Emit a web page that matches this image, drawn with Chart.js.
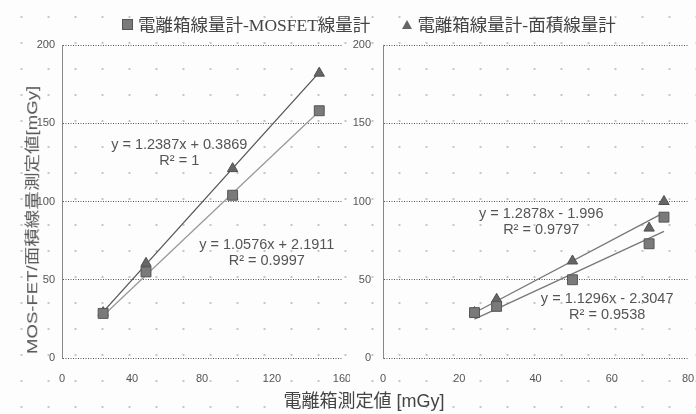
<!DOCTYPE html>
<html lang="ja">
<head>
<meta charset="UTF-8">
<title>電離箱測定値</title>
<script src="https://cdn.jsdelivr.net/npm/chart.js"></script>
<style>
  html, body { margin: 0; padding: 0; }
  body {
    width: 696px; height: 414px; position: relative; overflow: hidden;
    background-color: #fdfdfd;
    background-image: radial-gradient(circle, #c4c4c4 0.9px, transparent 1.3px);
    background-size: 27px 26px;
    background-position: 8px 4px;
    font-family: "Liberation Sans", "Noto Sans CJK JP", sans-serif;
  }
  canvas { position: absolute; top: 0; }
  #left { left: 0; }
  #right { left: 350px; }
  .legend {
    position: absolute; top: 11px; left: 122px; height: 24px;
    font-family: "Liberation Serif", "Noto Sans CJK JP", serif;
    font-size: 17.5px; color: #444; white-space: nowrap; line-height: 24px;
  }
  .legend span { display: inline-block; vertical-align: middle; }
  .sq { width: 9px; height: 9px; background: #7a7a7a; border: 1px solid #555; margin-right: 5px; }
  .tri { width: 0; height: 0; border-left: 5px solid transparent; border-right: 5px solid transparent;
         border-bottom: 9px solid #666; margin: 0 5px 0 32px; }
  .ytitle {
    position: absolute; left: 31px; top: 220px;
    transform: translate(-50%, -50%) rotate(-90deg) scale(1.16, 0.9);
    font-size: 16px; color: #555; white-space: nowrap;
  }
  .xtitle {
    position: absolute; left: 364px; top: 399px; transform: translate(-50%, -50%);
    font-size: 18px; color: #444; white-space: nowrap;
  }
</style>
</head>
<body>
  <canvas id="left" width="350" height="414"></canvas>
  <canvas id="right" width="346" height="414"></canvas>
  <div class="legend"><span class="sq"></span><span>電離箱線量計-MOSFET線量計</span><span class="tri"></span><span>電離箱線量計-面積線量計</span></div>
  <div class="ytitle">MOS-FET/面積線量測定値[mGy]</div>
  <div class="xtitle">電離箱測定値 [mGy]</div>

<script>
// left panel (0-160 mGy)
const leftX = [23.5, 48, 97.5, 147];
const leftMosfet = [28.5, 55, 104, 158];
const leftArea = [29, 60.5, 121, 182];
const leftSlope = [1.0576, 1.2387];
const leftIntercept = [2.1911, 0.3869];
const leftXTicks = [0, 40, 80, 120, 160];

// right panel (0-80 mGy)
const rightX = [24, 29.8, 49.7, 69.8, 73.7];
const rightMosfet = [29, 33, 50, 73, 90];
const rightArea = [29, 37.5, 62, 83, 100];
const rightSlope = [1.1296, 1.2878];
const rightIntercept = [-2.3047, -1.996];
const rightXTicks = [0, 20, 40, 60, 80];

const yTicks = [0, 50, 100, 150, 200];

const leftLabels = [
    { x: 67, y: 136, lines: ["y = 1.2387x + 0.3869", "R\u00b2 = 1"] },
    { x: 117, y: 72, lines: ["y = 1.0576x + 2.1911", "R\u00b2 = 0.9997"] }
];
const rightLabels = [
    { x: 41.5, y: 92, lines: ["y = 1.2878x - 1.996", "R\u00b2 = 0.9797"] },
    { x: 58.8, y: 37.7, lines: ["y = 1.1296x - 2.3047", "R\u00b2 = 0.9538"] }
];

function pts(xs, ys) {
    return xs.map((x, i) => ({ x: x, y: ys[i] }));
}

function trend(xs, m, b) {
    const x0 = Math.min(...xs), x1 = Math.max(...xs);
    return [{ x: x0, y: m * x0 + b }, { x: x1, y: m * x1 + b }];
}

const eqPlugin = {
    id: "eqLabels",
    afterDatasetsDraw(chart, args, opts) {
        const ctx = chart.ctx;
        const sx = chart.scales.x, sy = chart.scales.y;
        ctx.save();
        ctx.font = "14.5px 'Liberation Sans', sans-serif";
        ctx.fillStyle = "#555";
        ctx.textAlign = "center";
        ctx.textBaseline = "middle";
        opts.items.forEach(l => {
            const px = sx.getPixelForValue(l.x), py = sy.getPixelForValue(l.y);
            l.lines.forEach((t, i) => ctx.fillText(t, px, py + i * 16));
        });
        ctx.restore();
    }
};

function makeChart(id, xs, mos, area, slope, icpt, xTicks, xMax, yWidth, yPad, padRight, labels, lineCols) {
    new Chart(document.getElementById(id), {
        type: "scatter",
        data: {
            datasets: [
                { data: pts(xs, mos), pointStyle: "rect", pointRadius: 7, pointHoverRadius: 7,
                  backgroundColor: "#7a7a7a", borderColor: "#555", borderWidth: 1, order: 0 },
                { data: pts(xs, area), pointStyle: "triangle", pointRadius: 6, pointHoverRadius: 6,
                  backgroundColor: "#666", borderColor: "#505050", borderWidth: 1, order: 0 },
                { type: "line", data: trend(xs, slope[0], icpt[0]), borderColor: lineCols[0], borderWidth: 1.3,
                  pointRadius: 0, fill: false, order: 1 },
                { type: "line", data: trend(xs, slope[1], icpt[1]), borderColor: lineCols[1], borderWidth: 1.3,
                  pointRadius: 0, fill: false, order: 1 }
            ]
        },
        options: {
            responsive: false,
            animation: false,
            layout: { padding: { left: 0, right: padRight, top: 45, bottom: 26 } },
            plugins: { legend: { display: false }, tooltip: { enabled: false }, eqLabels: { items: labels } },
            scales: {
                x: {
                    type: "linear", min: 0, max: xMax,
                    afterBuildTicks: s => { s.ticks = xTicks.map(v => ({ value: v })); },
                    afterFit: s => { s.height = 30; s.paddingLeft = 0; s.paddingRight = 0; },
                    grid: { display: false, drawTicks: false },
                    border: { display: false },
                    ticks: { padding: 14, color: "#555", font: { size: 11, family: "'Liberation Sans', sans-serif" }, maxRotation: 0 }
                },
                y: {
                    type: "linear", min: 0, max: 200,
                    afterBuildTicks: s => { s.ticks = yTicks.map(v => ({ value: v })); },
                    afterFit: s => { s.width = yWidth; s.paddingTop = 0; s.paddingBottom = 0; },
                    grid: { color: "#555", lineWidth: 1, drawTicks: false },
                    border: { display: true, color: "#888", width: 1, dash: [1, 1.5] },
                    ticks: { padding: yPad, color: "#555", font: { size: 11, family: "'Liberation Sans', sans-serif" } }
                }
            }
        },
        plugins: [eqPlugin]
    });
}

makeChart("left", leftX, leftMosfet, leftArea, leftSlope, leftIntercept, leftXTicks, 160, 62, 7, 8, leftLabels, ["#9a9a9a", "#555"]);
makeChart("right", rightX, rightMosfet, rightArea, rightSlope, rightIntercept, rightXTicks, 80, 33, 12, 6, rightLabels, ["#777", "#777"]);
</script>
</body>
</html>
